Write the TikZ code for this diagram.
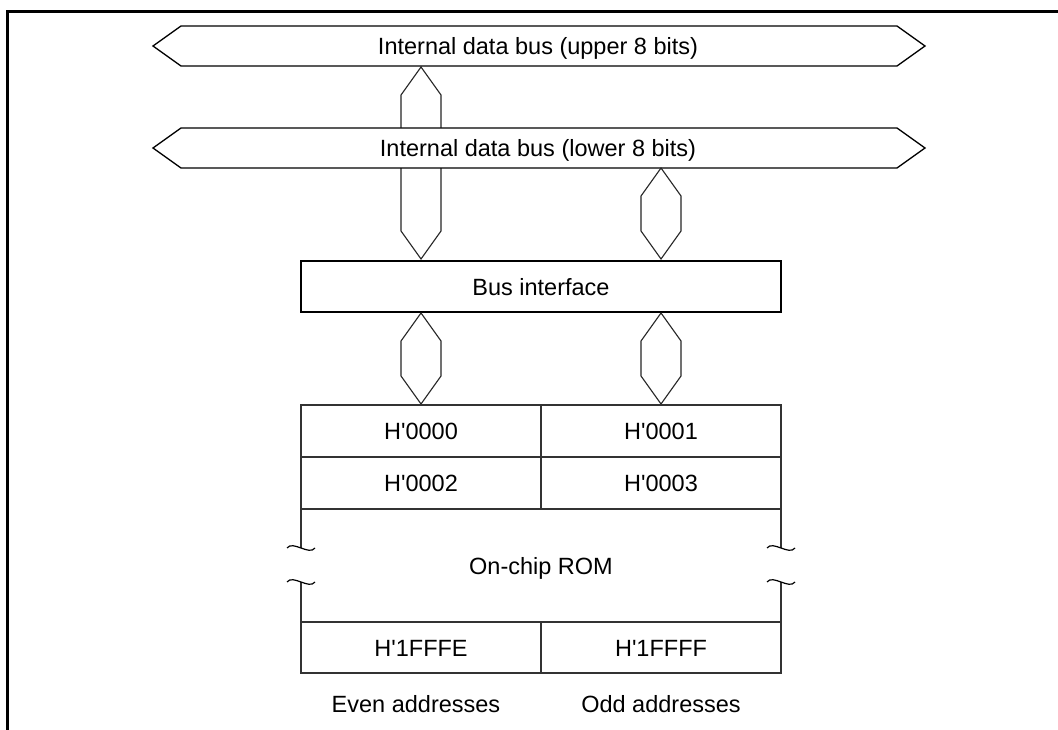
\documentclass[tikz,border=0pt]{standalone}
\usepackage{fontspec}
\newfontfamily\lsans{Liberation Sans}
\newcommand\hexv[3]{\draw[conn] (#1,#2) -- (#1-20,#2+28) -- (#1-20,#3-28) -- (#1,#3) -- (#1+20,#3-28) -- (#1+20,#2+28) -- cycle;}
\begin{document}
\begin{tikzpicture}[x=1pt,y=-1pt,
  txt/.style={font=\lsans\fontsize{23.5}{28}\selectfont, inner sep=0pt, text height=17pt, text depth=0pt},
  bus/.style={draw=black, line width=1.3pt, fill=white, line join=miter},
  conn/.style={draw=black!85, line width=1.1pt, fill=white},
  tab/.style={draw=black!80, line width=1.3pt},
  wave/.style={draw=black, line width=1.2pt},
  frame/.style={line width=2.6pt}]
\useasboundingbox (0,0) rectangle (1058,730);
\fill[white] (0,0) rectangle (1058,730);
\draw[frame] (1058,11.5) -- (7.5,11.5) -- (7.5,730);

% long connector from upper bus to bus interface (passes behind lower bus)
\hexv{421}{67}{259}

% buses
\draw[bus] (153,46) -- (181,26) -- (897,26) -- (925,46) -- (897,66) -- (181,66) -- cycle;
\node[txt] (ubus) at (538,46) {Internal data bus (upper 8 bits)};
\draw[bus] (153,148) -- (181,128) -- (897,128) -- (925,148) -- (897,168) -- (181,168) -- cycle;
\node[txt] (lbus) at (538,148) {Internal data bus (lower 8 bits)};

% connector lower bus -> bus interface
\hexv{661}{168}{259}

% bus interface
\node[txt, draw=black, line width=1.3pt, minimum width=480pt, minimum height=51pt] (bif) at (541,286.5) {Bus interface};

% connectors bus interface -> memory
\hexv{421}{313}{404}
\hexv{661}{313}{404}

% memory table
\draw[tab] (301,548) -- (301,405) -- (781,405) -- (781,548);
\draw[tab] (301,457) -- (781,457);
\draw[tab] (301,509) -- (781,509);
\draw[tab] (541,405) -- (541,509);
\draw[tab] (301,582) -- (301,673) -- (781,673) -- (781,582);
\draw[tab] (301,622) -- (781,622);
\draw[tab] (541,622) -- (541,673);
% break marks
\draw[wave] (287,548) .. controls (293,540) and (309,556) .. (315,548);
\draw[wave] (287,582) .. controls (293,574) and (309,590) .. (315,582);
\draw[wave] (767,548) .. controls (773,540) and (789,556) .. (795,548);
\draw[wave] (767,582) .. controls (773,574) and (789,590) .. (795,582);

\node[txt] (a0) at (421,431) {H'0000};
\node[txt] (a1) at (661,431) {H'0001};
\node[txt] (a2) at (421,483) {H'0002};
\node[txt] (a3) at (661,483) {H'0003};
\node[txt] (rom) at (541,566) {On-chip ROM};
\node[txt] (ae) at (421,647.5) {H'1FFFE};
\node[txt] (ao) at (661,647.5) {H'1FFFF};
\node[txt] (even) at (416,704) {Even addresses};
\node[txt] (odd) at (661,704) {Odd addresses};
\end{tikzpicture}
\end{document}
